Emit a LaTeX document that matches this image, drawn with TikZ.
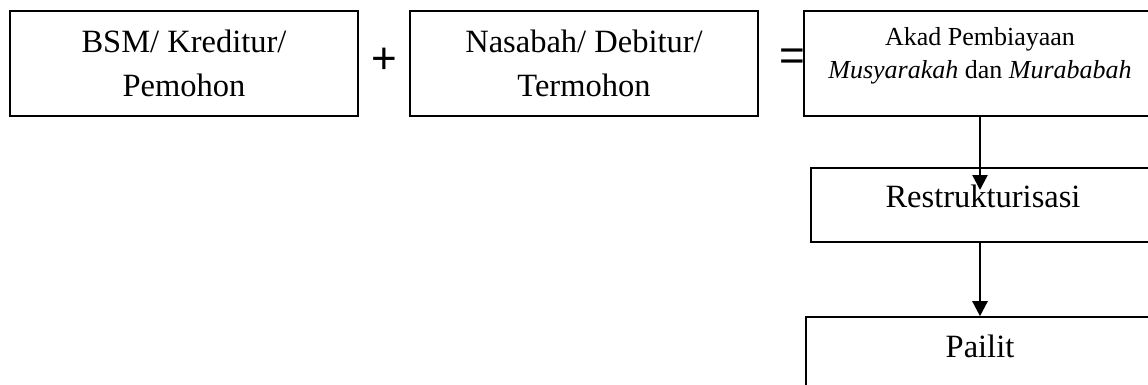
\documentclass[tikz,border=0pt]{standalone}
\usepackage{fontspec}
\setmainfont{Liberation Serif}
\newfontfamily\opfont{Liberation Sans}
\usetikzlibrary{arrows.meta}

\tikzset{
  box/.style={draw=black, line width=1.6pt, inner sep=0pt, align=center,
              font=\fontsize{32.5}{44}\selectfont},
  boxtext/.style={inner sep=0pt, align=center},
  bigtxt/.style={font=\fontsize{32.5}{44}\selectfont},
  smalltxt/.style={font=\fontsize{26}{33}\selectfont},
  optxt/.style={inner sep=0pt, font=\opfont\fontsize{44}{44}\selectfont},
  flow/.style={draw=black, line width=2.4pt,
               -{Triangle[length=15pt,width=15pt]}}
}

\begin{document}
\begin{tikzpicture}[x=1pt, y=-1pt]
  \useasboundingbox (0,0) rectangle (1148,385);
  \clip (0,0) rectangle (1148,385);

  % top row: the two parties and the contract
  \node[box, minimum width=348pt, minimum height=105pt] (bsm) at (184,63.5)
    {BSM/ Kreditur/\\Pemohon};
  \node[optxt] (plus) at (384,60.5) {+};
  \node[box, minimum width=348pt, minimum height=105pt] (nasabah) at (584,63.5)
    {Nasabah/ Debitur/\\Termohon};
  \node[optxt] (eq) at (792.5,59.5) {=};
  \node[box, minimum width=352pt, minimum height=105pt] (akad) at (980,63.5) {};
  \node[boxtext, smalltxt] (akadtxt) at (980,55.5)
    {Akad Pembiayaan\\\textit{Musyarakah} dan \textit{Murababah}};

  % right column: restructuring and bankruptcy
  \node[box, minimum width=338pt, minimum height=74pt] (restr) at (980,205) {};
  \node[boxtext, bigtxt] (restrtxt) at (983,196) {Restrukturisasi};
  \node[box, minimum width=348pt, minimum height=100pt] (pailit) at (980,367) {};
  \node[boxtext, bigtxt] (pailittxt) at (980,346) {Pailit};

  % connectors
  \coordinate (tip1) at (980,190);
  \draw[flow] (akad.south) -- (tip1);
  \draw[flow] (restr.south) -- (pailit.north);
\end{tikzpicture}
\end{document}
